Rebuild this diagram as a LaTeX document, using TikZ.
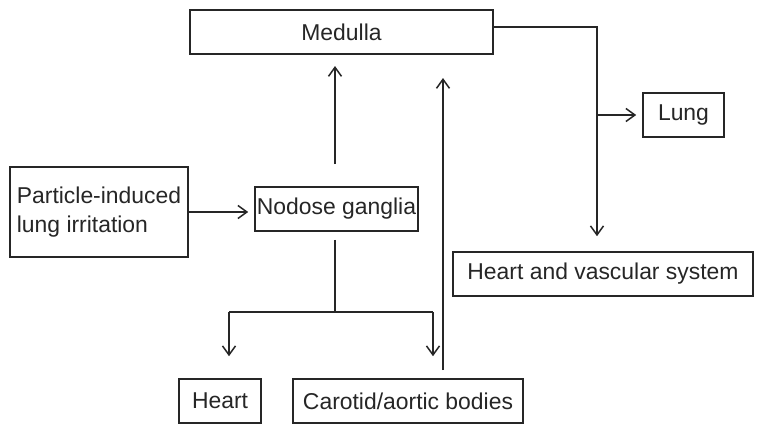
\documentclass[tikz,border=0pt]{standalone}
\usepackage{fontspec}
\setmainfont{Liberation Sans}
\usetikzlibrary{arrows.meta,calc}
\tikzset{
  box/.style={draw=black!85, line width=1.6pt, inner sep=0pt, font=\fontsize{22.9}{28.5}\selectfont, text=black!85},
  conn/.style={draw=black!85, line width=1.5pt},
  arr/.style={conn, -{Straight Barb[length=9pt,width=13pt,line width=1.5pt]}}
}
\begin{document}
\begin{tikzpicture}[x=1pt,y=-1pt]
\fill[white] (0,0) rectangle (764,434);
\useasboundingbox (0,0) rectangle (764,434);
\node[box, minimum width=303pt, minimum height=44.5pt] (med) at (341.5,32) {Medulla};
\node[box, minimum width=81pt, minimum height=44pt] (lung) at (683.5,115) {Lung};
\node[box, minimum width=178pt, minimum height=90pt, align=left] (part) at (99,212) {Particle-induced\\lung irritation};
\node[box, minimum width=163pt, minimum height=44pt] (nod) at (336.5,209) {Nodose ganglia};
\node[box, minimum width=300pt, minimum height=44pt] (hv) at (603,274) {Heart and vascular system};
\node[box, minimum width=82pt, minimum height=44pt] (heart) at (220,401) {Heart};
\node[box, minimum width=230pt, minimum height=44pt] (car) at (408,401) {Carotid/aortic bodies};
\coordinate (j1) at (597,27);
\coordinate (j2) at (335,312);
\coordinate (hl) at (229,312);
\coordinate (hr) at (433,312);
\coordinate (up) at (443,370);
% nodose up to medulla
\draw[arr, shorten <=22pt, shorten >=11pt] (j2 |- nod.north) -- (j2 |- med.south);
% medulla to lung / heart & vascular
\draw[conn] (med.east |- j1) -- (j1) -- (j1 |- lung.west);
\draw[arr, shorten >=15pt] (j1 |- lung.west) -- (j1 |- hv.north);
\draw[arr, shorten >=6pt] (j1 |- lung.west) -- (lung.west);
% particle to nodose
\draw[arr, shorten >=6pt] (part.east) -- (nod.west |- part.east);
% nodose down
\draw[conn, shorten <=8pt] (j2 |- nod.south) -- (j2);
\draw[conn] (hl) -- (hr);
\draw[arr, shorten >=22pt] (hl) -- (hl |- heart.north);
\draw[arr, shorten >=22pt] (hr) -- (hr |- car.north);
% carotid up to medulla
\draw[arr, shorten >=23pt] (up) -- (up |- med.south);
\end{tikzpicture}
\end{document}
